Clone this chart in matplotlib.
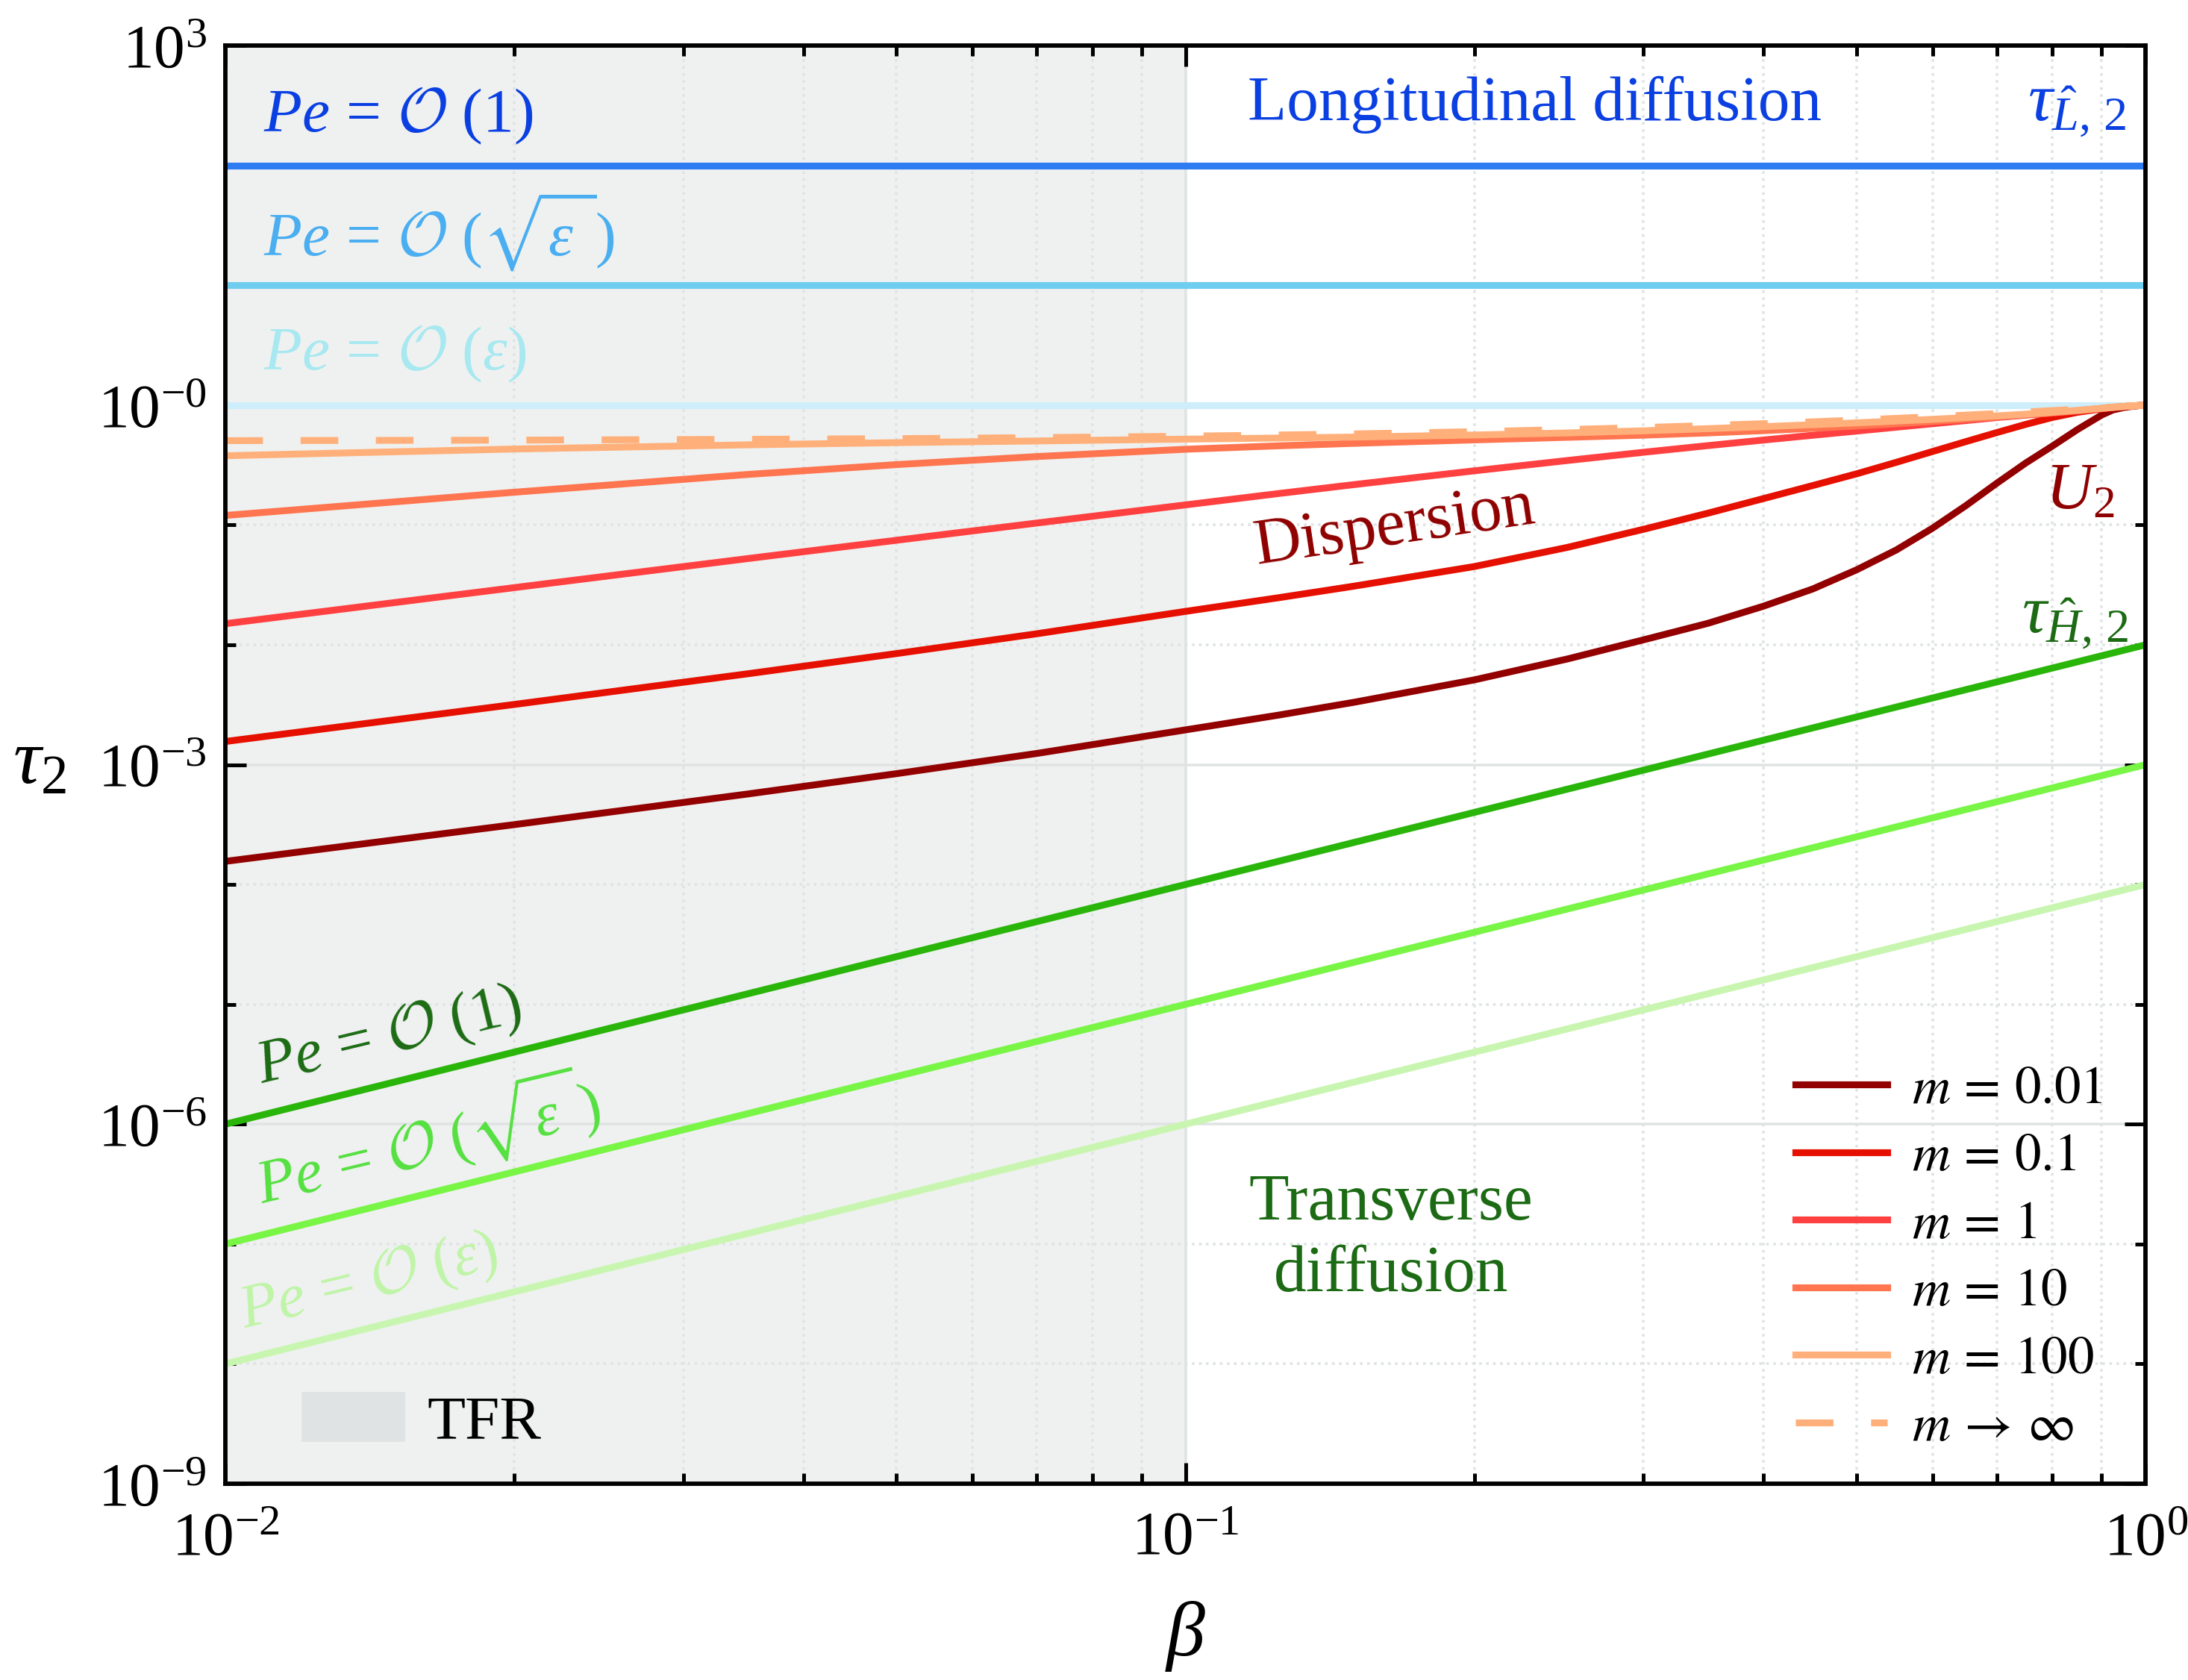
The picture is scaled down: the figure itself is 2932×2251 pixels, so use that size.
import numpy as np
import matplotlib
matplotlib.use('Agg')
import matplotlib.pyplot as plt
from matplotlib.ticker import FixedLocator, LogLocator, NullFormatter
from matplotlib.patches import Patch

plt.rcParams['font.family'] = ['Liberation Serif', 'DejaVu Serif']
plt.rcParams['mathtext.fontset'] = 'custom'
plt.rcParams['mathtext.rm'] = 'Liberation Serif'
plt.rcParams['mathtext.it'] = 'Liberation Serif:italic'
plt.rcParams['mathtext.bf'] = 'Liberation Serif:bold'
plt.rcParams['mathtext.cal'] = 'cmsy10'
plt.rcParams['mathtext.fallback'] = 'stix'

# ---- data ----
beta = [0.01, 0.02, 0.035, 0.05, 0.07, 0.1, 0.125, 0.15, 0.2, 0.25, 0.3, 0.35, 0.4,
        0.45, 0.5, 0.55, 0.6, 0.65, 0.7, 0.75, 0.8, 0.85, 0.9, 0.925, 0.95, 0.975, 1.0]

U2_m001 = [1.56e-4, 3.16e-4, 5.69e-4, 8.41e-4, 1.24e-3, 1.95e-3, 2.59e-3, 3.32e-3, 5.1e-3,
           7.62e-3, 0.011, 0.0151, 0.021, 0.0292, 0.0422, 0.0618, 0.094, 0.145, 0.223,
           0.328, 0.456, 0.628, 0.826, 0.912, 0.955, 0.984, 1.0]
U2_m01 = [1.56e-3, 3.18e-3, 5.73e-3, 8.45e-3, 0.01236, 0.019, 0.0247, 0.0309, 0.045,
          0.065, 0.092, 0.1253, 0.166, 0.213, 0.267, 0.333, 0.41, 0.496, 0.59,
          0.69, 0.789, 0.872, 0.93, 0.952, 0.97, 0.986, 1.0]
U2_m1 = [0.015, 0.030, 0.0524, 0.0745, 0.1037, 0.147, 0.1828, 0.2173, 0.283,
         0.345, 0.404, 0.459, 0.511, 0.56, 0.607, 0.654, 0.699, 0.743, 0.787,
         0.825, 0.858, 0.895, 0.935, 0.955, 0.972, 0.987, 1.0]
U2_m10 = [0.12, 0.1875, 0.2638, 0.3188, 0.372, 0.428, 0.4573, 0.4797, 0.5125,
          0.5383, 0.5613, 0.586, 0.612, 0.64, 0.669, 0.699, 0.73, 0.762, 0.794,
          0.83, 0.864, 0.898, 0.938, 0.957, 0.974, 0.988, 1.0]
U2_m100 = [0.378, 0.43, 0.466, 0.486, 0.502, 0.52, 0.531, 0.541, 0.563,
           0.586, 0.61, 0.636, 0.661, 0.686, 0.711, 0.736, 0.761, 0.787, 0.813,
           0.84, 0.872, 0.905, 0.94, 0.958, 0.975, 0.988, 1.0]
U2_minf = [0.505, 0.51, 0.518, 0.525, 0.535, 0.55, 0.563, 0.575, 0.60,
           0.625, 0.65, 0.675, 0.70, 0.725, 0.75, 0.775, 0.80, 0.825, 0.85,
           0.875, 0.90, 0.925, 0.95, 0.9625, 0.975, 0.9875, 1.0]
m_labels = [r'$m\,=\,0.01$', r'$m\,=\,0.1$', r'$m\,=\,1$', r'$m\,=\,10$', r'$m\,=\,100$',
            r'$m\,\rightarrow\,\infty$']

# tau_L,2 (horizontal) and tau_H,2 (straight, end points)
beta_ends = [0.01, 1.0]
tauL_pe1 = [100.0, 100.0]
tauL_sqrt = [10.0, 10.0]
tauL_eps = [1.0, 1.0]
tauH_pe1 = [1e-6, 1e-2]
tauH_sqrt = [1e-7, 1e-3]
tauH_eps = [1e-8, 1e-4]

tfr_range = [0.01, 0.1]

ytick_vals = [1e3, 1e0, 1e-3, 1e-6, 1e-9]
ytick_labels = [r'$10^{3}$', r'$10^{-0}$', r'$10^{-3}$', r'$10^{-6}$', r'$10^{-9}$']
xtick_vals = [1e-2, 1e-1, 1e0]
xtick_labels = [r'$10^{-2}$', r'$10^{-1}$', r'$10^{0}$']

# ---- figure ----
fig = plt.figure(figsize=(2932 / 300, 2251 / 300), dpi=300)
ax = fig.add_axes([0.1030, 0.1168, 0.8776, 0.8561])
ax.set_xscale('log')
ax.set_yscale('log')
ax.set_xlim(0.01, 1)
ax.set_ylim(1e-9, 1e3)

lw = 2.2
ax.axvspan(tfr_range[0], tfr_range[1], color='#eff1f0', zorder=0, lw=0)

ax.plot(beta_ends, tauL_pe1, color='#2e7cf2', lw=lw, solid_capstyle='round')
ax.plot(beta_ends, tauL_sqrt, color='#6fcdf0', lw=lw, solid_capstyle='round')
ax.plot(beta_ends, tauL_eps, color='#cdeefa', lw=lw, solid_capstyle='round')

ax.plot(beta_ends, tauH_pe1, color='#2ab50a', lw=lw, solid_capstyle='round')
ax.plot(beta_ends, tauH_sqrt, color='#78f545', lw=lw, solid_capstyle='round')
ax.plot(beta_ends, tauH_eps, color='#c8f6b0', lw=lw, solid_capstyle='round')

red_cols = ['#930000', '#e51000', '#ff4040', '#ff7550', '#ffb07a']
curves = [U2_m001, U2_m01, U2_m1, U2_m10, U2_m100]
handles = []
for yv, c, lab in zip(curves, red_cols, m_labels[:5]):
    ln, = ax.plot(beta, yv, color=c, lw=lw, label=lab)
    handles.append(ln)
ln, = ax.plot(beta, U2_minf, color='#ffb07a', lw=lw, dashes=(5.5, 5.5), label=m_labels[5])
handles.append(ln)

# ticks & grid
ax.set_yticks(ytick_vals)
ax.set_yticklabels(ytick_labels)
ax.yaxis.set_minor_locator(FixedLocator([v for v in np.logspace(-9, 3, 13) if v not in ytick_vals]))
ax.yaxis.set_minor_formatter(NullFormatter())
ax.set_xticks(xtick_vals)
ax.set_xticklabels(xtick_labels)
ax.xaxis.set_minor_locator(LogLocator(base=10, subs=np.arange(2, 10)))
ax.xaxis.set_minor_formatter(NullFormatter())
ax.tick_params(which='both', direction='in', top=True, right=True, width=1.2, labelsize=20)
ax.tick_params(which='major', length=6.7)
ax.tick_params(which='minor', length=3.4)
ax.tick_params(axis='x', which='major', pad=9)
ax.tick_params(axis='y', which='major', pad=6)
ax.set_axisbelow(True)
ax.grid(which='major', color='#dfe3e3', lw=0.85, ls='-')
ax.grid(which='minor', color='#dfe3e3', lw=0.85, ls=':')
for s in ax.spines.values():
    s.set_linewidth(1.4)

ax.set_xlabel(r'$\beta$', fontsize=25, labelpad=10)
ax.set_ylabel(r'$\tau_2$', fontsize=25, rotation=0, va='center', ha='center')
ax.yaxis.set_label_coords(-0.097, 0.5)

# annotations
ta = ax.transAxes
fs = 21
pfs = 20
pe_one = r'$Pe\,=\,\mathcal{O}\ (1)$'
pe_sqrt = r'$Pe\,=\,\mathcal{O}\ (\sqrt{\varepsilon\ })$'
pe_eps = r'$Pe\,=\,\mathcal{O}\ (\varepsilon)$'

blue_txt = ['#0a3fe2', '#4aaef0', '#a8e8f0']
ax.text(0.020, 0.9403, pe_one, color=blue_txt[0], fontsize=pfs, transform=ta)
ax.text(0.020, 0.8547, pe_sqrt, color=blue_txt[1], fontsize=pfs, transform=ta)
ax.text(0.020, 0.7748, pe_eps, color=blue_txt[2], fontsize=pfs, transform=ta)
ax.text(0.682, 0.959, 'Longitudinal diffusion', color='#0a3fe2', fontsize=20.5,
        ha='center', va='center', transform=ta)
ax.text(0.990, 0.957, r'$\tau_{\hat{L},\,2}$', color='#0a3fe2', fontsize=22,
        ha='right', va='center', transform=ta)

ax.text(0.609, 0.665, 'Dispersion', color='#8f0000', fontsize=fs, rotation=8.5,
        rotation_mode='anchor', ha='center', va='center', transform=ta)
ax.text(0.966, 0.689, r'$U_2$', color='#8f0000', fontsize=fs, ha='center', va='center', transform=ta)
ax.text(0.991, 0.601, r'$\tau_{\hat{H},\,2}$', color='#1c6b14', fontsize=22,
        ha='right', va='center', transform=ta)

green_txt = ['#1c6b14', '#55e040', '#c0f5a8']
ax.text(0.0187, 0.278, pe_one, color=green_txt[0], fontsize=pfs, rotation=13.5,
        rotation_mode='anchor', transform=ta)
ax.text(0.0187, 0.195, pe_sqrt, color=green_txt[1], fontsize=pfs,
        rotation=13.5, rotation_mode='anchor', transform=ta)
ax.text(0.010, 0.108, pe_eps, color=green_txt[2], fontsize=pfs,
        rotation=13.5, rotation_mode='anchor', transform=ta)
ax.text(0.607, 0.170, 'Transverse\ndiffusion', color='#1c6b14', fontsize=fs,
        ha='center', va='center', linespacing=1.25, transform=ta)

leg = ax.legend(handles=handles, loc='upper left', bbox_to_anchor=(0.8177, 0.2907),
                frameon=False, fontsize=17, handlelength=1.73, handletextpad=0.47,
                labelspacing=0.36, borderpad=0, borderaxespad=0)
for t in leg.get_texts():
    t.set_math_fontfamily('stix')
ax.add_artist(leg)
ax.legend(handles=[Patch(color='#dfe3e3', lw=0)], labels=['TFR'], loc='center left',
          bbox_to_anchor=(0.0396, 0.043), frameon=False, fontsize=20, handlelength=1.67,
          handleheight=0.86, handletextpad=0.35, borderpad=0, borderaxespad=0)

fig.savefig('out.png', dpi=300)
